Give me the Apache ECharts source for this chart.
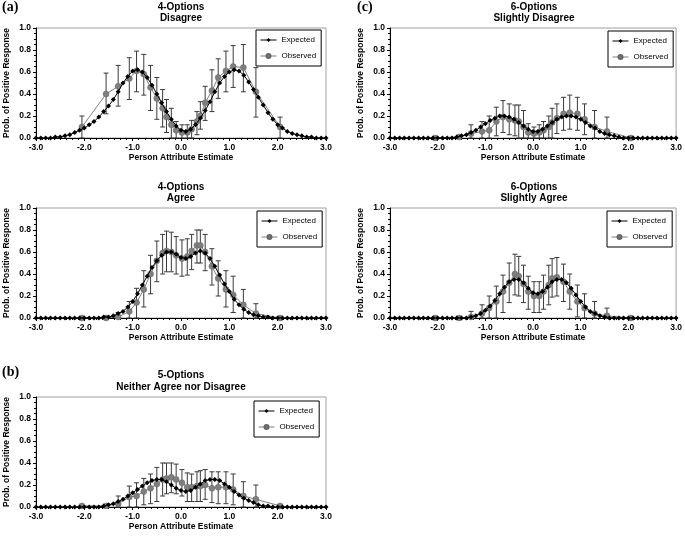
<!DOCTYPE html>
<html><head><meta charset="utf-8">
<script src="https://cdn.jsdelivr.net/npm/echarts@6/dist/echarts.min.js"></script>
<style>html,body{margin:0;padding:0;background:#fff}#c{width:685px;height:536px}</style>
</head><body><div id="c"></div>
<script>
// Expected curve abscissae (person attribute estimate)
const expX = [-3.0,-2.9,-2.8,-2.7,-2.6,-2.5,-2.4,-2.3,-2.2,-2.1,-2.0,-1.9,-1.8,-1.7,-1.6,-1.5,-1.4,-1.3,-1.2,-1.1,-1.0,-0.9,-0.8,-0.7,-0.6,-0.5,-0.4,-0.3,-0.2,-0.1,0.0,0.1,0.2,0.3,0.4,0.5,0.6,0.7,0.8,0.9,1.0,1.1,1.2,1.3,1.4,1.5,1.6,1.7,1.8,1.9,2.0,2.1,2.2,2.3,2.4,2.5,2.6,2.7,2.8,2.9,3.0];
// Observed group abscissae
const obsX = [-2.05,-1.55,-1.30,-1.07,-0.92,-0.77,-0.63,-0.50,-0.38,-0.30,-0.20,-0.10,0.02,0.13,0.22,0.33,0.40,0.50,0.64,0.77,0.93,1.08,1.29,1.55,2.05];

// (a) 4-Options Disagree
const expA = [0,0,0,0,0.01,0.01,0.02,0.03,0.05,0.07,0.09,0.12,0.15,0.19,0.24,0.29,0.35,0.42,0.50,0.56,0.61,0.62,0.60,0.55,0.48,0.40,0.32,0.24,0.17,0.11,0.07,0.06,0.08,0.12,0.18,0.25,0.33,0.42,0.50,0.56,0.60,0.62,0.61,0.57,0.51,0.44,0.37,0.30,0.23,0.17,0.12,0.09,0.06,0.04,0.03,0.02,0.01,0.01,0,0,0];
const obsA = [0.10,0.40,0.47,0.54,0.61,0.58,0.46,0.36,0.27,0.19,0.12,0.07,0.05,0.05,0.08,0.15,0.20,0.32,0.43,0.55,0.61,0.65,0.64,0.42,0.10];
const loA  = [0.00,0.22,0.29,0.35,0.42,0.39,0.25,0.17,0.10,0.05,0.00,0.00,0.00,0.00,0.00,0.03,0.08,0.16,0.24,0.36,0.42,0.46,0.42,0.19,0.00];
const hiA  = [0.20,0.59,0.66,0.73,0.79,0.76,0.66,0.55,0.44,0.35,0.27,0.15,0.12,0.12,0.16,0.24,0.33,0.47,0.62,0.72,0.79,0.84,0.85,0.64,0.19];

// 4-Options Agree
const expAg = [0,0,0,0,0,0,0,0,0,0,0,0,0,0,0.01,0.01,0.02,0.04,0.06,0.10,0.15,0.22,0.30,0.38,0.46,0.52,0.57,0.60,0.60,0.58,0.55,0.54,0.56,0.59,0.61,0.59,0.54,0.47,0.39,0.31,0.24,0.17,0.12,0.08,0.05,0.03,0.02,0.01,0.01,0,0,0,0,0,0,0,0,0,0,0,0];
const obsAg = [0.00,0.00,0.01,0.06,0.14,0.26,0.40,0.52,0.59,0.61,0.60,0.57,0.54,0.56,0.61,0.66,0.66,0.60,0.47,0.36,0.26,0.21,0.12,0.04,0.00];
const loAg  = [0.00,0.00,0.00,0.00,0.00,0.10,0.22,0.33,0.40,0.42,0.42,0.40,0.38,0.39,0.44,0.50,0.50,0.43,0.30,0.20,0.10,0.05,0.00,0.00,0.00];
const hiAg  = [0.00,0.00,0.05,0.15,0.27,0.43,0.57,0.70,0.76,0.79,0.78,0.74,0.71,0.72,0.76,0.80,0.80,0.76,0.63,0.52,0.43,0.38,0.26,0.13,0.00];

// (c) 6-Options Slightly Disagree
const expSD = [0,0,0,0,0,0,0,0,0,0,0,0,0,0,0.01,0.02,0.03,0.05,0.07,0.10,0.13,0.16,0.18,0.20,0.20,0.19,0.17,0.14,0.11,0.08,0.06,0.06,0.08,0.11,0.14,0.17,0.19,0.20,0.20,0.19,0.17,0.14,0.11,0.09,0.06,0.04,0.03,0.02,0.01,0,0,0,0,0,0,0,0,0,0,0,0];
const obsSD = [0.00,0.01,0.04,0.06,0.07,0.15,0.19,0.17,0.16,0.15,0.10,0.05,0.04,0.05,0.07,0.10,0.14,0.18,0.22,0.23,0.22,0.17,0.10,0.06,0.00];
const loSD  = [0.00,0.00,0.00,0.00,0.00,0.02,0.05,0.03,0.02,0.00,0.00,0.00,0.00,0.00,0.00,0.00,0.00,0.04,0.07,0.08,0.07,0.03,0.00,0.00,0.00];
const hiSD  = [0.00,0.02,0.12,0.15,0.20,0.28,0.34,0.31,0.30,0.30,0.25,0.13,0.10,0.12,0.15,0.20,0.27,0.31,0.37,0.39,0.37,0.31,0.25,0.19,0.00];

// 6-Options Slightly Agree
const expSA = [0,0,0,0,0,0,0,0,0,0,0,0,0,0,0,0,0,0.01,0.02,0.04,0.07,0.11,0.16,0.22,0.28,0.33,0.35,0.35,0.32,0.27,0.23,0.22,0.24,0.28,0.33,0.35,0.35,0.32,0.27,0.21,0.15,0.10,0.06,0.04,0.02,0.01,0,0,0,0,0,0,0,0,0,0,0,0,0,0,0];
const obsSA = [0.00,0.00,0.01,0.04,0.09,0.15,0.24,0.32,0.40,0.38,0.31,0.24,0.20,0.20,0.24,0.30,0.36,0.37,0.33,0.24,0.15,0.09,0.04,0.02,0.00];
const loSA  = [0.00,0.00,0.00,0.00,0.00,0.00,0.05,0.14,0.21,0.20,0.14,0.08,0.05,0.05,0.08,0.12,0.19,0.20,0.15,0.08,0.01,0.00,0.00,0.00,0.00];
const hiSA  = [0.00,0.00,0.06,0.12,0.20,0.29,0.39,0.50,0.58,0.56,0.48,0.38,0.33,0.33,0.39,0.48,0.54,0.55,0.49,0.40,0.30,0.22,0.15,0.09,0.00];

// (b) 5-Options Neither Agree nor Disagree
const expN = [0,0,0,0,0,0,0,0,0,0,0,0,0,0,0.01,0.02,0.03,0.05,0.07,0.10,0.13,0.16,0.19,0.22,0.24,0.25,0.25,0.23,0.20,0.17,0.15,0.14,0.15,0.18,0.21,0.24,0.25,0.25,0.24,0.21,0.18,0.14,0.11,0.08,0.06,0.04,0.02,0.01,0.01,0,0,0,0,0,0,0,0,0,0,0,0];
const obsN = [0.01,0.01,0.03,0.09,0.10,0.14,0.17,0.21,0.25,0.26,0.27,0.25,0.22,0.18,0.18,0.19,0.19,0.20,0.17,0.18,0.18,0.16,0.10,0.07,0.01];
const loN  = [0.00,0.00,0.00,0.00,0.00,0.02,0.03,0.05,0.10,0.12,0.13,0.12,0.10,0.05,0.05,0.05,0.05,0.07,0.04,0.03,0.03,0.02,0.00,0.00,0.00];
const hiN  = [0.00,0.02,0.10,0.19,0.22,0.26,0.30,0.36,0.40,0.40,0.40,0.39,0.34,0.31,0.30,0.32,0.33,0.34,0.32,0.32,0.32,0.30,0.23,0.20,0.00];

const xTicks = [-3.0,-2.0,-1.0,0.0,1.0,2.0,3.0];
const yTicks = [0.0,0.2,0.4,0.6,0.8,1.0];

const panels = [
  {t1:'4-Options', t2:'Disagree', grid:{left:36, top:28, width:290, height:110}, exp:expA, obs:obsA, lo:loA, hi:hiA, leg:{left:256, top:30}, tY:[7,18]},
  {t1:'6-Options', t2:'Slightly Disagree', grid:{left:390, top:28, width:288, height:110}, exp:expSD, obs:obsSD, lo:loSD, hi:hiSD, leg:{left:608, top:31}, tY:[7,18]},
  {t1:'4-Options', t2:'Agree', grid:{left:36, top:208, width:290, height:110}, exp:expAg, obs:obsAg, lo:loAg, hi:hiAg, leg:{left:257, top:211}, tY:[187,198]},
  {t1:'6-Options', t2:'Slightly Agree', grid:{left:390, top:208, width:288, height:110}, exp:expSA, obs:obsSA, lo:loSA, hi:hiSA, leg:{left:607, top:211}, tY:[187,198]},
  {t1:'5-Options', t2:'Neither Agree nor Disagree', grid:{left:36, top:397, width:290, height:110}, exp:expN, obs:obsN, lo:loN, hi:hiN, leg:{left:254, top:401}, tY:[375,387]}
];

const FONT = '"Liberation Sans", Arial, sans-serif';
const chart = echarts.init(document.getElementById('c'), null, {renderer:'canvas'});

function renderErr(params, api) {
  const x = api.value(0), lo = api.value(1), hi = api.value(2);
  if (!(hi > lo)) return null;
  const p1 = api.coord([x, lo]), p2 = api.coord([x, hi]);
  const w = 2.5, st = {stroke:'#3a3a3a', lineWidth:1};
  return {type:'group', children:[
    {type:'line', shape:{x1:p1[0], y1:p1[1], x2:p2[0], y2:p2[1]}, style:st},
    {type:'line', shape:{x1:p1[0]-w, y1:p1[1], x2:p1[0]+w, y2:p1[1]}, style:st},
    {type:'line', shape:{x1:p2[0]-w, y1:p2[1], x2:p2[0]+w, y2:p2[1]}, style:st}
  ]};
}

const grids = [], xAxes = [], yAxes = [], series = [], legends = [], graphics = [];
panels.forEach((p, i) => {
  grids.push(Object.assign({show:true, borderColor:'#a0a0a0', borderWidth:1, backgroundColor:'transparent'}, p.grid));
  xAxes.push({
    gridIndex:i, type:'value', min:xTicks[0], max:xTicks[xTicks.length-1], interval:1,
    axisLine:{show:true, onZero:false, lineStyle:{color:'#000', width:1}},
    axisTick:{show:true, length:3, lineStyle:{color:'#000'}},
    minorTick:{show:true, splitNumber:8, length:2, lineStyle:{color:'#000'}},
    splitLine:{show:false},
    axisLabel:{formatter:v=>v.toFixed(1), color:'#000', fontFamily:FONT, fontWeight:'bold', fontSize:8.5, margin:5},
    name:'Person Attribute Estimate', nameLocation:'middle', nameGap:15,
    nameTextStyle:{color:'#000', fontFamily:FONT, fontWeight:'bold', fontSize:8.5}
  });
  yAxes.push({
    gridIndex:i, type:'value', min:yTicks[0], max:yTicks[yTicks.length-1], interval:0.2,
    axisLine:{show:true, onZero:false, lineStyle:{color:'#000', width:1}},
    axisTick:{show:true, length:3, lineStyle:{color:'#000'}},
    minorTick:{show:true, splitNumber:4, length:2, lineStyle:{color:'#000'}},
    splitLine:{show:false},
    axisLabel:{formatter:v=>v.toFixed(1), color:'#000', fontFamily:FONT, fontWeight:'bold', fontSize:8.5, margin:5},
    name:'Prob. of Positive Response', nameLocation:'middle', nameGap:25, nameRotate:90,
    nameTextStyle:{color:'#000', fontFamily:FONT, fontWeight:'bold', fontSize:8.5}
  });
  series.push({
    type:'custom', name:'err'+i, xAxisIndex:i, yAxisIndex:i, z:1,
    renderItem:renderErr, encode:{x:0, y:[1,2]},
    data: obsX.map((x,j)=>[x, p.lo[j], p.hi[j]])
  });
  series.push({
    type:'line', name:'Observed', xAxisIndex:i, yAxisIndex:i, z:2,
    symbol:'circle', symbolSize:6, showAllSymbol:true,
    itemStyle:{color:'#7f7f7f', borderColor:'#666', borderWidth:0.5},
    lineStyle:{color:'#7f7f7f', width:1},
    data: obsX.map((x,j)=>[x, p.obs[j]])
  });
  series.push({
    type:'line', name:'Expected', xAxisIndex:i, yAxisIndex:i, z:3,
    symbol:'diamond', symbolSize:5, showAllSymbol:true,
    itemStyle:{color:'#000'},
    lineStyle:{color:'#000', width:1},
    data: expX.map((x,j)=>[x, p.exp[j]])
  });
  legends.push({
    data:['Expected','Observed'], orient:'vertical', left:p.leg.left, top:p.leg.top,
    borderColor:'#000', borderWidth:1, padding:[6,5,6,4], itemGap:8, itemWidth:16, itemHeight:5, itemTextGap:3,
    lineStyle:{width:1},
    textStyle:{color:'#000', fontFamily:FONT, fontSize:8}, selectedMode:false
  });
  const cx = p.grid.left + p.grid.width/2;
  graphics.push({type:'text', x:cx, y:p.tY[0], style:{text:p.t1, fontFamily:FONT, fontWeight:'bold', fontSize:10, fill:'#000', textAlign:'center', textVerticalAlign:'middle'}});
  graphics.push({type:'text', x:cx, y:p.tY[1], style:{text:p.t2, fontFamily:FONT, fontWeight:'bold', fontSize:10, fill:'#000', textAlign:'center', textVerticalAlign:'middle'}});
});
[['(a)',2,7],['(c)',357,7],['(b)',2,372]].forEach(l=>{
  graphics.push({type:'text', x:l[1], y:l[2], style:{text:l[0], fontFamily:'"Liberation Serif", "Times New Roman", serif', fontWeight:'bold', fontSize:14, fill:'#000', textAlign:'left', textVerticalAlign:'middle'}});
});

chart.setOption({
  animation:false,
  grid:grids, xAxis:xAxes, yAxis:yAxes, series:series, legend:legends, graphic:graphics
});
</script></body></html>
